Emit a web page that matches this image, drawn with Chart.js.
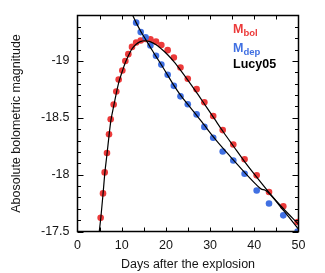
<!DOCTYPE html>
<html>
<head>
<meta charset="utf-8">
<script src="https://cdn.jsdelivr.net/npm/chart.js@4.4.0/dist/chart.umd.min.js"></script>
<style>
  html, body { margin: 0; padding: 0; background: #fff; }
  #wrap { width: 325px; height: 273px; }
</style>
</head>
<body>
<div id="wrap"><canvas id="lightCurve" width="325" height="273"></canvas></div>
<script>
// M_bol (red points)
const bolDays = [5.24, 5.77, 6.15, 6.67, 7.13, 7.51, 8.18, 8.78, 9.32, 10.14, 10.82, 11.5, 12.33, 13.27, 14.3, 15.4, 16.5, 17.76, 18.97, 20.4, 21.8, 23.3, 24.95, 26.95, 28.7, 30.7, 32.85, 35.25, 37.8, 40.54, 43.33, 46.56, 49.8];
const bolMag = [-17.62, -17.835, -18.02, -18.19, -18.355, -18.487, -18.617, -18.732, -18.836, -18.916, -19.0, -19.06, -19.124, -19.162, -19.18, -19.193, -19.19, -19.17, -19.14, -19.095, -19.03, -18.943, -18.843, -18.752, -18.637, -18.516, -18.392, -18.265, -18.135, -17.994, -17.847, -17.722, -17.584];

// M_dep (blue points)
const depDays = [13.27, 14.3, 15.4, 16.5, 17.76, 18.97, 20.4, 21.8, 23.3, 24.95, 26.95, 28.7, 30.7, 32.85, 35.25, 37.8, 40.54, 43.33, 46.56, 49.8];
const depMag = [-19.337, -19.254, -19.208, -19.136, -19.046, -18.968, -18.879, -18.781, -18.689, -18.619, -18.53, -18.42, -18.325, -18.204, -18.124, -18.008, -17.861, -17.746, -17.642, -17.5];

// Lucy05 model curves (black lines)
const lucyBolDays = [4.93, 5.3, 5.8, 6.2, 6.7, 7.15, 7.55, 8.2, 8.8, 9.4, 10.1, 10.8, 11.5, 12.3, 13.2, 14.2, 15.2, 16.4, 17.7, 19.0, 20.4, 21.8, 23.3, 25.0, 27.0, 29.0, 31.0, 33.0, 35.3, 37.8, 40.5, 43.3, 46.6, 50];
const lucyBolMag = [-17.5, -17.63, -17.84, -18.02, -18.19, -18.35, -18.475, -18.605, -18.72, -18.82, -18.905, -18.985, -19.045, -19.105, -19.145, -19.17, -19.178, -19.17, -19.145, -19.105, -19.055, -18.995, -18.92, -18.83, -18.72, -18.605, -18.49, -18.375, -18.25, -18.115, -17.98, -17.845, -17.7, -17.565];
const lucyDepDays = [12.5, 13.3, 14.3, 15.4, 16.5, 17.76, 19.0, 20.4, 21.8, 23.3, 25.0, 27.0, 28.7, 30.7, 32.85, 35.25, 37.8, 40.5, 41.5, 42.5, 43.5, 46.6, 50];
const lucyDepMag = [-19.4, -19.335, -19.262, -19.19, -19.12, -19.04, -18.965, -18.875, -18.785, -18.7, -18.615, -18.52, -18.435, -18.335, -18.235, -18.13, -18.02, -17.91, -17.875, -17.862, -17.83, -17.685, -17.52];

// axes
const xTickLabels = [0, 10, 20, 30, 40, 50];
const xTickMarks = [5, 10, 15, 20, 25, 30, 35, 40, 45];
const yTickLabels = [-19, -18.5, -18, -17.5];
const yMinorMarks = [-19.3, -19.2, -19.1, -18.9, -18.8, -18.7, -18.6, -18.4, -18.3, -18.2, -18.1, -17.9, -17.8, -17.7, -17.6];

const RED = 'rgb(236, 58, 58)';
const BLUE = 'rgb(64, 112, 226)';
const FONT = "'Liberation Sans', Arial, Helvetica, sans-serif";
const TEXT = '#151515';

const toPoints = (xs, ys) => xs.map((d, i) => ({ x: d, y: ys[i] }));

// frame with inward ticks on all four sides
const framePlugin = {
    id: 'frame',
    afterDatasetsDraw(chart) {
        const { ctx, chartArea: a, scales: { x, y } } = chart;
        ctx.save();
        ctx.strokeStyle = '#000';
        ctx.lineWidth = 1;
        ctx.beginPath();
        xTickMarks.forEach(d => {
            const px = Math.round(x.getPixelForValue(d)) + 0.5;
            ctx.moveTo(px, a.bottom); ctx.lineTo(px, a.bottom - 4);
            ctx.moveTo(px, a.top); ctx.lineTo(px, a.top + 4);
        });
        yTickLabels.forEach(v => {
            const py = Math.round(y.getPixelForValue(v)) + 0.5;
            ctx.moveTo(a.left, py); ctx.lineTo(a.left + 6, py);
            ctx.moveTo(a.right, py); ctx.lineTo(a.right - 6, py);
        });
        yMinorMarks.forEach(v => {
            const py = Math.round(y.getPixelForValue(v)) + 0.5;
            ctx.moveTo(a.left, py); ctx.lineTo(a.left + 3.5, py);
            ctx.moveTo(a.right, py); ctx.lineTo(a.right - 3.5, py);
        });
        ctx.stroke();
        ctx.lineWidth = 1.5;
        ctx.strokeRect(a.left, a.top, a.right - a.left, a.bottom - a.top);
        ctx.restore();
    }
};

// legend text in the upper right corner
const legendItems = [
    { main: 'M', sub: 'bol', color: RED, baseline: 33 },
    { main: 'M', sub: 'dep', color: BLUE, baseline: 52 },
    { main: 'Lucy05', sub: '', color: '#000', baseline: 68 }
];
const legendPlugin = {
    id: 'textLegend',
    afterDraw(chart) {
        const ctx = chart.ctx;
        ctx.save();
        ctx.textAlign = 'left';
        ctx.textBaseline = 'alphabetic';
        legendItems.forEach(item => {
            ctx.fillStyle = item.color;
            ctx.font = `bold 12.5px ${FONT}`;
            ctx.fillText(item.main, 233, item.baseline);
            if (item.sub) {
                const w = ctx.measureText(item.main).width;
                ctx.font = `bold 9.5px ${FONT}`;
                ctx.fillText(item.sub, 233 + w, item.baseline + 3);
            }
        });
        ctx.restore();
    }
};

new Chart(document.getElementById('lightCurve'), {
    type: 'scatter',
    data: {
        datasets: [
            {
                label: 'Lucy05 (bol)',
                type: 'line',
                data: toPoints(lucyBolDays, lucyBolMag),
                borderColor: '#000',
                borderWidth: 1.2,
                pointRadius: 0,
                fill: false,
                cubicInterpolationMode: 'monotone',
                clip: 0
            },
            {
                label: 'Lucy05 (dep)',
                type: 'line',
                data: toPoints(lucyDepDays, lucyDepMag),
                borderColor: '#000',
                borderWidth: 1.2,
                pointRadius: 0,
                fill: false,
                cubicInterpolationMode: 'monotone',
                clip: 0
            },
            {
                label: 'M_dep',
                data: toPoints(depDays, depMag),
                backgroundColor: BLUE,
                borderWidth: 0,
                pointRadius: 3.3,
                clip: 0
            },
            {
                label: 'M_bol',
                data: toPoints(bolDays, bolMag),
                backgroundColor: RED,
                borderWidth: 0,
                pointRadius: 3.3,
                clip: 0
            }
        ]
    },
    options: {
        responsive: false,
        animation: false,
        layout: { padding: { left: 0, right: 26.5, top: 12, bottom: 0 } },
        plugins: {
            legend: { display: false },
            tooltip: { enabled: false }
        },
        scales: {
            x: {
                type: 'linear',
                min: 0,
                max: 50,
                grid: { display: false, drawTicks: false },
                border: { display: false },
                afterBuildTicks: s => { s.ticks = xTickLabels.map(v => ({ value: v })); },
                ticks: { padding: 6.5, color: TEXT, maxRotation: 0, font: { family: FONT, size: 12.5 } },
                title: {
                    display: true,
                    text: 'Days after the explosion',
                    color: TEXT,
                    font: { family: FONT, size: 12.5 },
                    padding: { top: 0, bottom: 0.5 }
                },
                afterFit: s => { s.height = 41.5; }
            },
            y: {
                type: 'linear',
                min: -19.4,
                max: -17.5,
                reverse: true,
                grid: { display: false, drawTicks: false },
                border: { display: false },
                afterBuildTicks: s => { s.ticks = yTickLabels.map(v => ({ value: v })); },
                ticks: { padding: 8, color: TEXT, callback: v => String(v), font: { family: FONT, size: 12.5 } },
                title: {
                    display: true,
                    text: 'Abosolute bolometric magnitude',
                    color: TEXT,
                    font: { family: FONT, size: 12.5 },
                    padding: { top: 9.5, bottom: 0 }
                },
                afterFit: s => { s.width = 77.5; }
            }
        }
    },
    plugins: [framePlugin, legendPlugin]
});
</script>
</body>
</html>
